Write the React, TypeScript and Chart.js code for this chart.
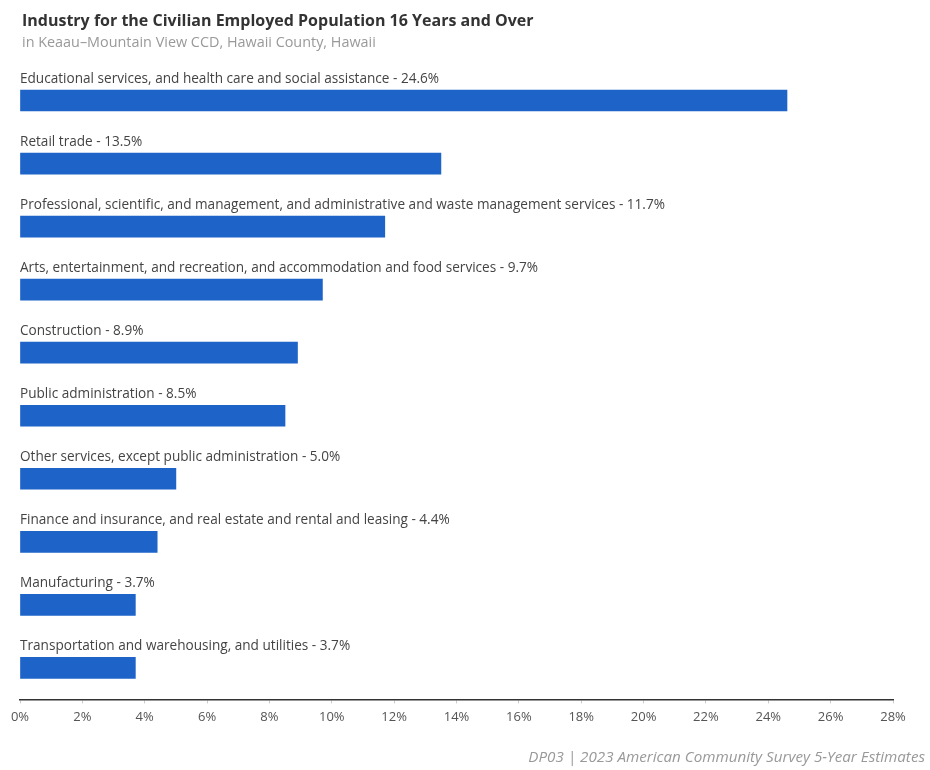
import React, { useEffect, useRef } from "react";
import { Chart, registerables } from "chart.js";

Chart.register(...registerables);

const categories: string[] = [
  "Educational services, and health care and social assistance",
  "Retail trade",
  "Professional, scientific, and management, and administrative and waste management services",
  "Arts, entertainment, and recreation, and accommodation and food services",
  "Construction",
  "Public administration",
  "Other services, except public administration",
  "Finance and insurance, and real estate and rental and leasing",
  "Manufacturing",
  "Transportation and warehousing, and utilities",
];

const percentValues: number[] = [24.6, 13.5, 11.7, 9.7, 8.9, 8.5, 5.0, 4.4, 3.7, 3.7];

const xTickMin = 0;
const xTickMax = 28;
const xTickStep = 2;

const titleText = "Industry for the Civilian Employed Population 16 Years and Over";
const subtitleText = "in Keaau\u2013Mountain View CCD, Hawaii County, Hawaii";
const footerSource = "DP03";
const footerText = "2023 American Community Survey 5-Year Estimates";

const FONT = "'Open Sans', 'Noto Sans', 'DejaVu Sans', sans-serif";

const barLabelPlugin = {
  id: "barLabels",
  afterDatasetsDraw(chart: any) {
    const ctx = chart.ctx;
    const meta = chart.getDatasetMeta(0);
    const left = chart.chartArea.left;
    ctx.save();
    ctx.font = `13.6px ${FONT}`;
    ctx.fillStyle = "#444";
    ctx.textAlign = "left";
    ctx.textBaseline = "alphabetic";
    meta.data.forEach((bar: any, i: number) => {
      const top = bar.y - bar.height / 2;
      const txt = `${categories[i]} - ${percentValues[i].toFixed(1)}%`;
      ctx.fillText(txt, left, top - 7);
    });
    ctx.restore();
  },
};

export default function App() {
  const canvasRef = useRef<HTMLCanvasElement | null>(null);

  useEffect(() => {
    if (!canvasRef.current) return;
    const chart = new Chart(canvasRef.current, {
      type: "bar",
      data: {
        labels: categories,
        datasets: [
          {
            data: percentValues,
            backgroundColor: "#1d63c8",
            borderWidth: 0,
            barThickness: 21,
          },
        ],
      },
      options: {
        indexAxis: "y",
        responsive: false,
        animation: false,
        layout: { padding: { left: 20, right: 37, top: 69, bottom: 39 } },
        plugins: {
          legend: { display: false },
          tooltip: { enabled: false },
          title: { display: false },
        },
        scales: {
          y: { display: false },
          x: {
            min: xTickMin,
            max: xTickMax,
            border: { display: true, color: "#333", width: 1.5 },
            grid: { drawOnChartArea: false, drawTicks: true, tickLength: 4, color: "#ccc" },
            ticks: {
              stepSize: xTickStep,
              padding: 6,
              color: "#555",
              font: { family: FONT, size: 13 },
              callback: (v: any) => `${v}%`,
              maxRotation: 0,
            },
          },
        },
      },
      plugins: [barLabelPlugin],
    });
    return () => chart.destroy();
  }, []);

  return (
    <div style={{ position: "absolute", left: 0, top: 0, width: 930, height: 770, background: "#fff", overflow: "hidden" }}>
      <canvas ref={canvasRef} width={930} height={770} style={{ position: "absolute", left: 0, top: 0 }} />
      <div
        style={{
          position: "absolute",
          left: 22,
          top: 9,
          fontFamily: FONT,
          fontWeight: 700,
          fontSize: 16,
          color: "#333",
          whiteSpace: "nowrap",
        }}
      >
        {titleText}
      </div>
      <div
        style={{
          position: "absolute",
          left: 22,
          top: 32,
          fontFamily: FONT,
          fontSize: 14.4,
          color: "#999",
          whiteSpace: "nowrap",
        }}
      >
        {subtitleText}
      </div>
      <div
        style={{
          position: "absolute",
          right: 5,
          top: 746,
          fontFamily: FONT,
          fontStyle: "italic",
          fontSize: 15.2,
          color: "#999",
          whiteSpace: "nowrap",
        }}
      >
        {footerSource} | {footerText}
      </div>
    </div>
  );
}
